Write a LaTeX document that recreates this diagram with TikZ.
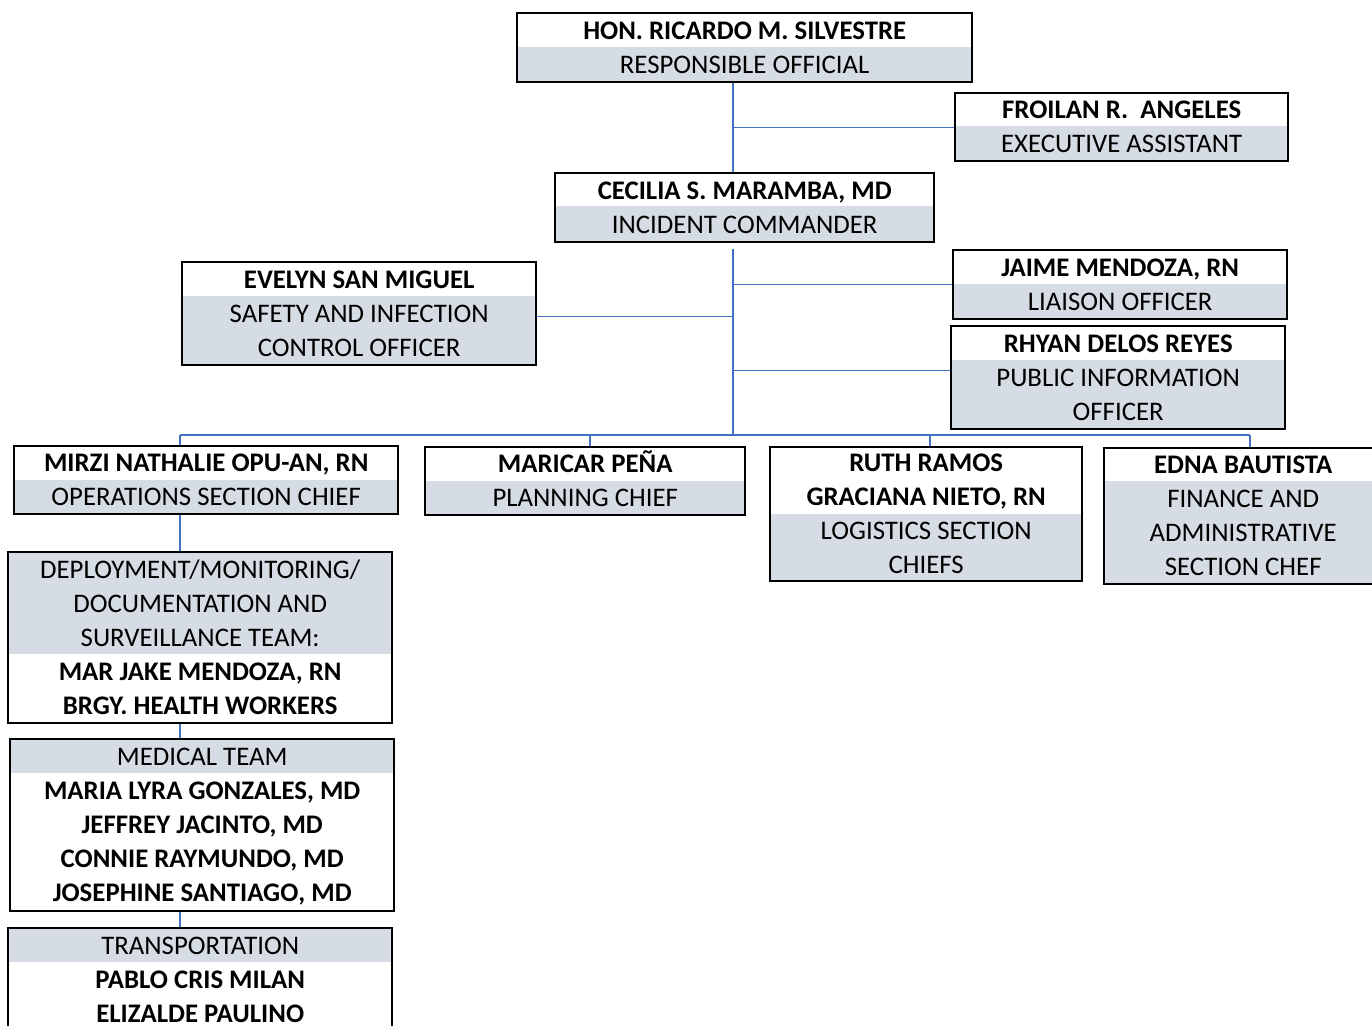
\documentclass[tikz,border=0pt]{standalone}
\usepackage{fontspec}
\setmainfont{Carlito}
\usetikzlibrary{calc}
\definecolor{gbg}{HTML}{D6DCE4}
\definecolor{lnk}{HTML}{4472C4}
\tikzset{
  obox/.style={draw=black, line width=1.2pt, inner sep=0pt, align=center,
    anchor=north west, font=\fontsize{13.4}{17}\selectfont},
  link/.style={draw=lnk, line width=0.6pt}
}
% #1 name, #2 left, #3 top, #4 right, #5 bottom, #6 grey top, #7 grey bottom, #8 text
\newcommand\orgbox[8]{%
  \fill[gbg] (#2,#6) rectangle (#4,#7);
  \node[obox, minimum width={(#4-#2)*0.5pt}, minimum height={(#5-#3)*0.5pt}] (#1) at (#2,#3) {#8};
}
\begin{document}
\begin{tikzpicture}[x=0.5pt, y=-0.5pt]
\clip (0,0) rectangle (1372,1026);
\fill[white] (0,0) rectangle (1372,1026);

\orgbox{hon}{516}{12}{971}{81}{47}{81}{\textbf{HON. RICARDO M. SILVESTRE}\\RESPONSIBLE OFFICIAL}
\orgbox{fro}{954}{92}{1287}{160}{126}{160}{\textbf{FROILAN R.\ \ ANGELES}\\EXECUTIVE ASSISTANT}
\orgbox{cec}{554}{172}{933}{241}{206}{241}{\textbf{CECILIA S. MARAMBA, MD}\\INCIDENT COMMANDER}
\orgbox{ev}{181}{261}{535}{364}{296}{364}{\textbf{EVELYN SAN MIGUEL}\\SAFETY AND INFECTION\\CONTROL OFFICER}
\orgbox{jai}{952}{249}{1286}{318}{284}{318}{\textbf{JAIME MENDOZA, RN}\\LIAISON OFFICER}
\orgbox{rh}{950}{325}{1284}{428}{360}{428}{\textbf{RHYAN DELOS REYES}\\PUBLIC INFORMATION\\OFFICER}
\orgbox{mir}{13}{445}{397}{513}{480}{513}{\textbf{MIRZI NATHALIE OPU-AN, RN}\\OPERATIONS SECTION CHIEF}
\orgbox{mar}{424}{446}{744}{514}{481}{514}{\textbf{MARICAR \smash{PEÑA}}\\PLANNING CHIEF}
\orgbox{ruth}{769}{446}{1081}{580}{514}{580}{\textbf{RUTH RAMOS}\\\textbf{GRACIANA NIETO, RN}\\LOGISTICS SECTION\\CHIEFS}
\orgbox{edna}{1103}{447}{1381}{583}{481}{583}{\textbf{EDNA BAUTISTA}\\FINANCE AND\\ADMINISTRATIVE\\SECTION CHEF}
\orgbox{dep}{7}{551}{391}{722}{551}{654}{DEPLOYMENT/MONITORING/\\DOCUMENTATION AND\\SURVEILLANCE TEAM:\\\textbf{MAR JAKE MENDOZA, RN}\\\textbf{BRGY. HEALTH WORKERS}}
\orgbox{med}{9}{738}{393}{910}{738}{773}{MEDICAL TEAM\\\textbf{MARIA LYRA GONZALES, MD}\\\textbf{JEFFREY JACINTO, MD}\\\textbf{CONNIE RAYMUNDO, MD}\\\textbf{JOSEPHINE SANTIAGO\smash{,} MD}}
\orgbox{tra}{7}{927}{391}{1030}{927}{962}{TRANSPORTATION\\\textbf{PABLO CRIS MILAN}\\\textbf{ELIZALDE PAULINO}}

% connector helper coordinates
\coordinate (tr) at (733,0);
\coordinate (bus) at (733,435);
\coordinate (d1) at (180,435);
\coordinate (d2) at (590,435);
\coordinate (d3) at (930,435);
\coordinate (d4) at (1250,435);

\draw[link] (hon.south -| tr) -- (cec.north -| tr);
\draw[link] (tr |- fro.west) -- (fro.west);
\draw[link] ($(cec.south -| tr)+(0,6)$) -- (bus);
\draw[link] (tr |- jai.west) -- (jai.west);
\draw[link] ($(ev.east)+(0,3)$) -- ($(tr |- ev.east)+(0,3)$);
\draw[link] ($(tr |- rh.west)+(0,-7)$) -- ($(rh.west)+(0,-7)$);
\draw[link] (d1) -- (d4);
\draw[link] (d1) -- (d1 |- mir.north);
\draw[link] (d2) -- (d2 |- mar.north);
\draw[link] (d3) -- (d3 |- ruth.north);
\draw[link] (d4) -- (d4 |- edna.north);
\draw[link] (mir.south -| d1) -- (dep.north -| d1);
\draw[link] (dep.south -| d1) -- (med.north -| d1);
\draw[link] (med.south -| d1) -- (tra.north -| d1);
\end{tikzpicture}
\end{document}
